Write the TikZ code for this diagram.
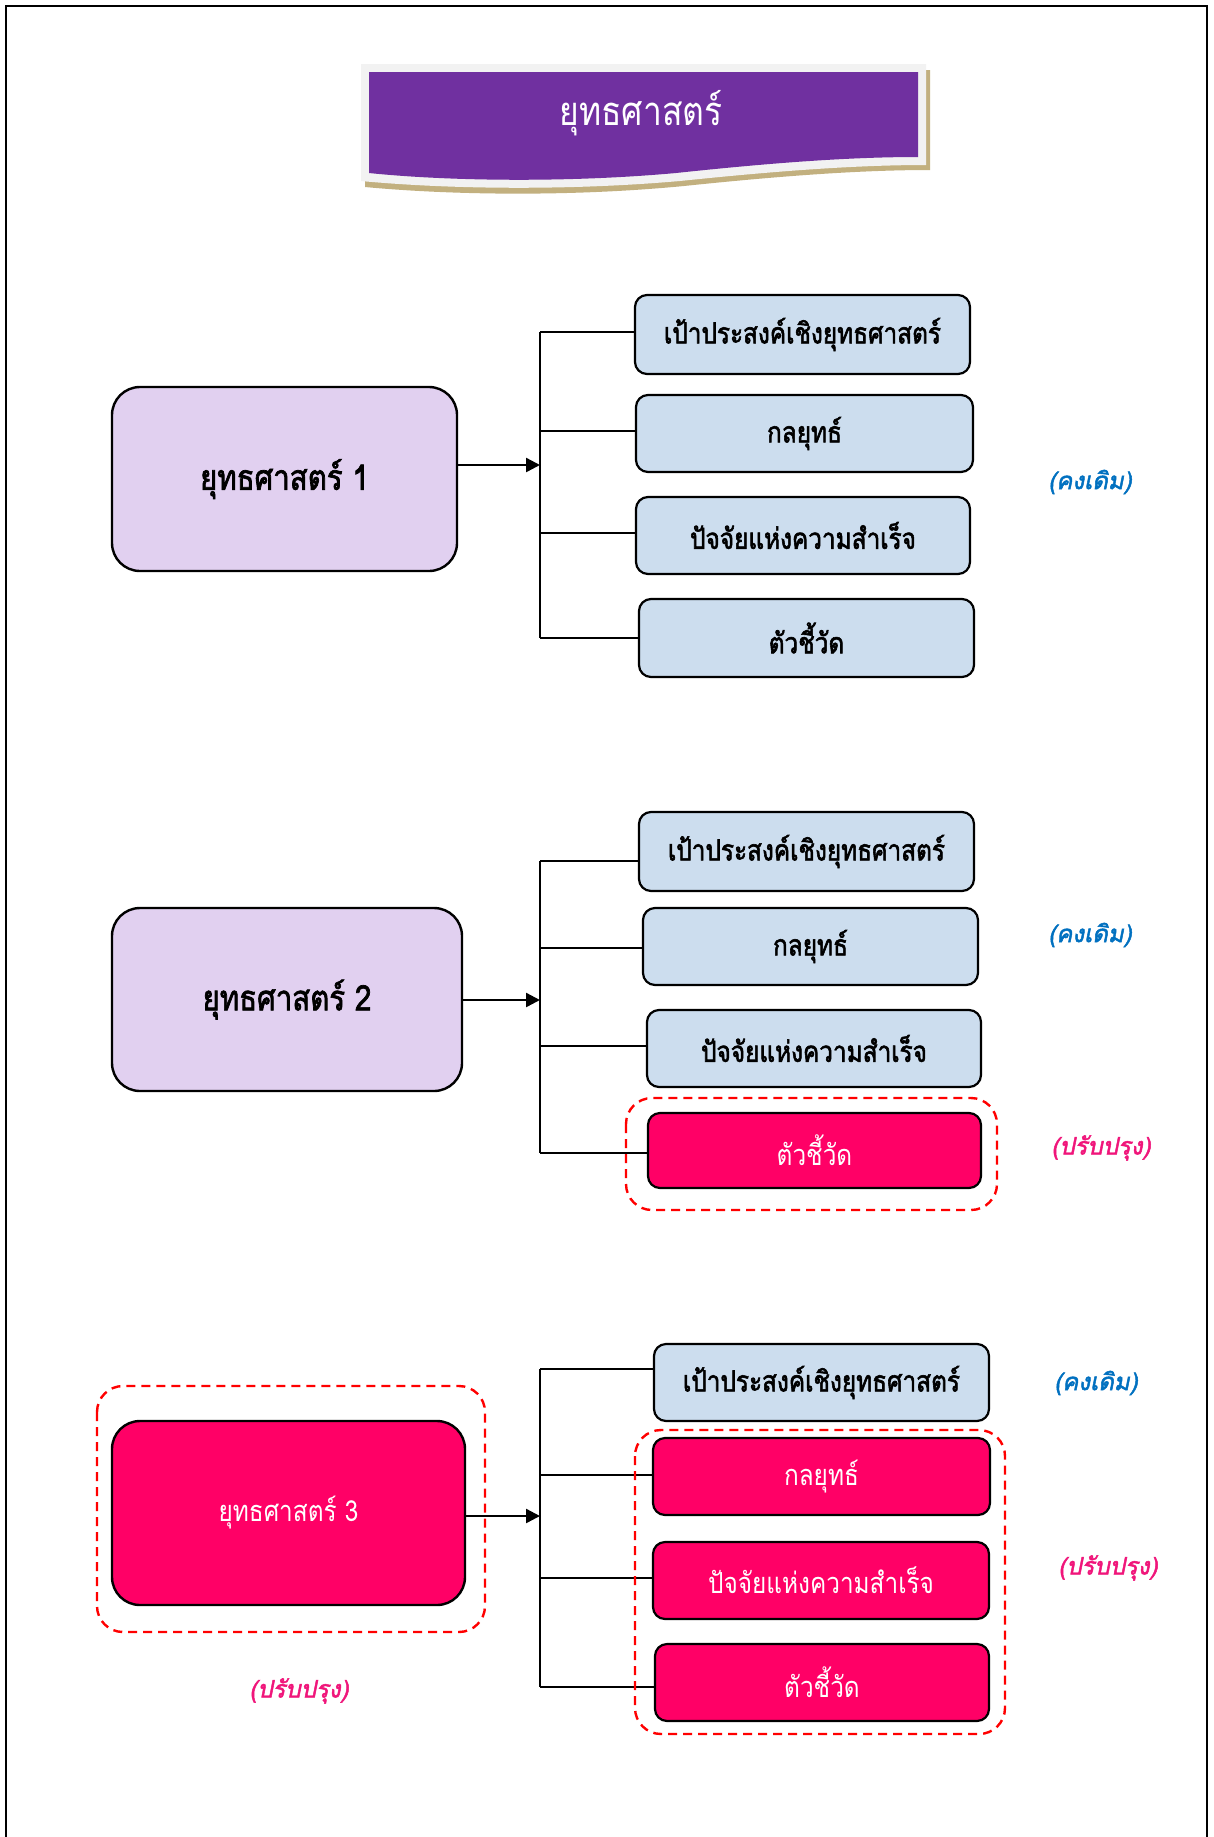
\documentclass[tikz,border=0pt]{standalone}
\usepackage{fontspec}
\usetikzlibrary{arrows.meta}
\newfontfamily\thai[Script=Thai,AutoFakeSlant=0.2,AutoFakeBold=2]{Loma}
\newfontfamily\thainarrow[Script=Thai,FakeStretch=0.84,AutoFakeSlant=0.2,AutoFakeBold=2]{Loma}
\definecolor{titlepurple}{HTML}{7030A0}
\definecolor{lavender}{HTML}{E1D0F0}
\definecolor{lightblue}{HTML}{CCDDEE}
\definecolor{hotpink}{HTML}{FF0066}
\definecolor{keepblue}{HTML}{0070C0}
\definecolor{fixpink}{HTML}{F0157A}
\definecolor{tan}{HTML}{C2B07F}
\definecolor{palegray}{HTML}{F2F2F2}
\tikzset{
  cbox/.style={draw=black, line width=2.2pt, rounded corners=12pt, inner sep=0pt, align=center},
  bluebox/.style={cbox, fill=lightblue, font=\thainarrow\bfseries\fontsize{29}{32}\selectfont, text=black},
  pinkbox/.style={cbox, fill=hotpink, font=\thainarrow\fontsize{29}{32}\selectfont, text=white},
  bigbox/.style={draw=black, line width=2.4pt, rounded corners=28pt, inner sep=0pt},
  hilite/.style={draw=red, line width=2.4pt, dash pattern=on 9pt off 6pt, rounded corners=26pt},
  keeplabel/.style={font=\thai\bfseries\itshape\fontsize{24}{28}\selectfont, text=keepblue},
  fixlabel/.style={font=\thai\bfseries\itshape\fontsize{24}{28}\selectfont, text=fixpink},
  link/.style={line width=2.4pt},
  pointer/.style={line width=2.4pt, -{Triangle[length=14pt,width=14pt]}}
}
\begin{document}
\begin{tikzpicture}[x=1pt,y=-1pt]
\useasboundingbox (0,0) rectangle (1214,1837);
\fill[white] (0,0) rectangle (1214,1837);
% page frame
\draw[line width=2.4pt] (6,1837) -- (6,6) -- (1207,6) -- (1207,1837);

% title banner
\fill[tan] (365,70) -- (930,70) -- (930,170)
  .. controls (860,170) and (780,176) .. (684,186)
  .. controls (570,197) and (450,195) .. (365,187) -- cycle;
\fill[palegray] (361,64) -- (926,64) -- (926,165)
  .. controls (856,165) and (776,171) .. (680,181)
  .. controls (566,191) and (446,189) .. (361,181) -- cycle;
\fill[titlepurple] (369,72) -- (918,72) -- (918,157)
  .. controls (848,157) and (770,163) .. (676,173)
  .. controls (566,183) and (446,181) .. (369,173) -- cycle;
\node[font=\thainarrow\fontsize{40}{46}\selectfont, text=white] (title) at (641,113) {ยุทธศาสตร์};

% ---------- strategy 1 ----------
\node[bigbox, fill=lavender, font=\thainarrow\bfseries\fontsize{35}{40}\selectfont, minimum width=345pt, minimum height=184pt] (b1) at (284.5,479) {ยุทธศาสตร์ 1};
\node[bluebox, minimum width=335pt, minimum height=79pt] (s1a) at (802.5,334.5) {เป้าประสงค์เชิงยุทธศาสตร์};
\node[bluebox, minimum width=337pt, minimum height=77pt] (s1b) at (804.5,433.5) {กลยุทธ์};
\node[bluebox, minimum width=334pt, minimum height=77pt] (s1c) at (803,535.5) {ปัจจัยแห่งความสำเร็จ};
\node[bluebox, minimum width=335pt, minimum height=78pt] (s1d) at (806.5,638) {ตัวชี้วัด};
\coordinate (t1) at (540,332);
\coordinate (u1) at (540,638);
\coordinate (a1) at (540,465);
\draw[link] (t1) -- (u1);
\draw[pointer] (a1 -| b1.east) -- (a1);
\draw[link] (t1) -- (t1 -| s1a.west);
\draw[link] (540,431) coordinate (r1b) -- (r1b -| s1b.west);
\draw[link] (540,533) coordinate (r1c) -- (r1c -| s1c.west);
\draw[link] (u1) -- (u1 -| s1d.west);
\node[keeplabel] (k1) at (1090,482) {(คงเดิม)};

% ---------- strategy 2 ----------
\node[bigbox, fill=lavender, font=\thainarrow\bfseries\fontsize{35}{40}\selectfont, minimum width=350pt, minimum height=183pt] (b2) at (287,999.5) {ยุทธศาสตร์ 2};
\node[bluebox, minimum width=335pt, minimum height=79pt] (s2a) at (806.5,851.5) {เป้าประสงค์เชิงยุทธศาสตร์};
\node[bluebox, minimum width=335pt, minimum height=77pt] (s2b) at (810.5,946.5) {กลยุทธ์};
\node[bluebox, minimum width=334pt, minimum height=77pt] (s2c) at (814,1048.5) {ปัจจัยแห่งความสำเร็จ};
\node[pinkbox, minimum width=333pt, minimum height=75pt] (s2d) at (814.5,1150.5) {ตัวชี้วัด};
\coordinate (t2) at (540,861);
\coordinate (u2) at (540,1153);
\coordinate (a2) at (540,1000);
\draw[link] (t2) -- (u2);
\draw[pointer] (a2 -| b2.east) -- (a2);
\draw[link] (t2) -- (t2 -| s2a.west);
\draw[link] (540,948) coordinate (r2b) -- (r2b -| s2b.west);
\draw[link] (540,1046) coordinate (r2c) -- (r2c -| s2c.west);
\draw[link] (u2) -- (u2 -| s2d.west);
\draw[hilite] (626,1098) rectangle (997,1210);
\node[keeplabel] (k2) at (1090,935) {(คงเดิม)};
\node[fixlabel] (f2) at (1101,1148) {(ปรับปรุง)};

% ---------- strategy 3 ----------
\node[bigbox, fill=hotpink, text=white, font=\thainarrow\fontsize{29}{32}\selectfont, minimum width=353pt, minimum height=184pt] (b3) at (288.5,1513) {ยุทธศาสตร์ 3};
\node[bluebox, minimum width=335pt, minimum height=77pt] (s3a) at (821.5,1382.5) {เป้าประสงค์เชิงยุทธศาสตร์};
\node[pinkbox, minimum width=337pt, minimum height=77pt] (s3b) at (821.5,1476.5) {กลยุทธ์};
\node[pinkbox, minimum width=336pt, minimum height=77pt] (s3c) at (821,1580.5) {ปัจจัยแห่งความสำเร็จ};
\node[pinkbox, minimum width=334pt, minimum height=77pt] (s3d) at (822,1682.5) {ตัวชี้วัด};
\coordinate (t3) at (540,1369);
\coordinate (u3) at (540,1687);
\coordinate (a3) at (540,1516);
\draw[link] (t3) -- (u3);
\draw[pointer] (a3 -| b3.east) -- (a3);
\draw[link] (t3) -- (t3 -| s3a.west);
\draw[link] (540,1475) coordinate (r3b) -- (r3b -| s3b.west);
\draw[link] (540,1578) coordinate (r3c) -- (r3c -| s3c.west);
\draw[link] (u3) -- (u3 -| s3d.west);
\draw[hilite] (97,1386) rectangle (485,1632);
\draw[hilite] (635,1430) rectangle (1005,1734);
\node[keeplabel] (k3) at (1096,1383) {(คงเดิม)};
\node[fixlabel] (f3) at (1108,1568) {(ปรับปรุง)};
\node[fixlabel] (f3b) at (299,1691) {(ปรับปรุง)};
\end{tikzpicture}
\end{document}
